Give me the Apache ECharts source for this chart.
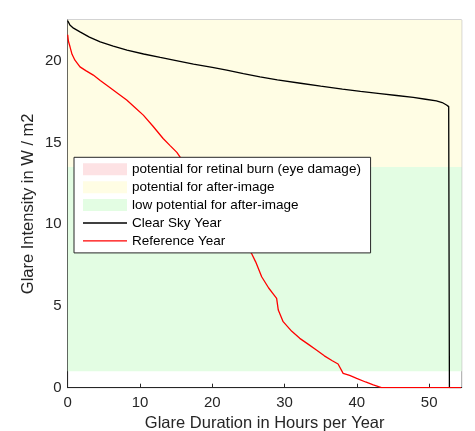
<!DOCTYPE html>
<html>
<head>
<meta charset="utf-8">
<script src="https://cdn.jsdelivr.net/npm/echarts@6/dist/echarts.min.js"></script>
<style>html,body{margin:0;padding:0;background:#fff}#c{width:475px;height:431px}</style>
</head>
<body>
<div id="c"></div>
<script>
// Data
const clearSkyX = [0, 0.3, 0.8, 1.7, 3, 4.5, 6.3, 8.2, 10.5, 12.8, 15, 17.4, 20, 22, 24.3, 26.6, 29, 32.2, 35, 38, 40.5, 43.2, 45.5, 47.8, 49.5, 51, 51.8, 52.4, 52.7, 52.8, 52.8, 54.4];
const clearSkyY = [22.45, 22.2, 22.0, 21.77, 21.45, 21.16, 20.9, 20.65, 20.42, 20.21, 20.02, 19.8, 19.6, 19.43, 19.22, 19.02, 18.83, 18.63, 18.45, 18.27, 18.13, 18.0, 17.88, 17.76, 17.65, 17.55, 17.45, 17.3, 17.2, 17.1, 0, 0];
const refX = [0, 0.1, 0.32, 0.6, 1.0, 1.7, 2.5, 3.54, 4.5, 5.4, 6.8, 8.16, 9.3, 10.46, 11.8, 13.2, 14.2, 15.1, 16.5, 18, 19.5, 21, 22.5, 23.5, 24.5, 25.45, 26.0, 26.83, 27.8, 28.5, 28.9, 29.13, 29.8, 31, 32.1, 33.3, 34.4, 35.5, 36.6, 37.4, 37.66, 38.1, 39.0, 39.97, 41.2, 42.27, 43.4, 54.4];
const refY = [21.6, 21.2, 20.86, 20.4, 20.04, 19.63, 19.4, 19.13, 18.8, 18.51, 18.05, 17.6, 17.15, 16.68, 16.0, 15.25, 14.8, 14.4, 13.5, 12.6, 11.7, 10.8, 9.9, 9.3, 8.7, 8.2, 7.7, 6.79, 6.1, 5.7, 5.47, 4.75, 4.04, 3.45, 3.02, 2.65, 2.31, 1.95, 1.65, 1.45, 1.39, 0.88, 0.75, 0.57, 0.35, 0.17, 0, 0];
const bandNames = ['potential for retinal burn (eye damage)', 'potential for after-image', 'low potential for after-image'];
const bandLow = [22.5, 13.5, 1];
const bandHigh = [30, 22.5, 13.5];
const bandColors = ['#fde2e4', '#fffde4', '#e3fde3'];
const lineNames = ['Clear Sky Year', 'Reference Year'];
const xTicks = [0, 10, 20, 30, 40, 50];
const yTicks = [0, 5, 10, 15, 20];

const FONT = '"Liberation Sans", Arial, sans-serif';
const zip = (xs, ys) => xs.map((x, i) => [x, ys[i]]);

const bandSeries = bandNames.map((n, i) => ({
  name: n, type: 'line', data: [], z: 1, symbol: 'none',
  itemStyle: { color: bandColors[i] }, lineStyle: { color: bandColors[i] },
  markArea: {
    silent: true,
    itemStyle: { color: bandColors[i], opacity: 1 },
    data: bandLow[i] < 22.5 ? [[{ yAxis: bandLow[i] }, { yAxis: Math.min(bandHigh[i], 22.5) }]] : []
  }
}));

const LINE_ICON = 'path://M0,0L44,0L44,1.3L0,1.3Z';

const chart = echarts.init(document.getElementById('c'), null, { renderer: 'canvas' });
chart.setOption({
  animation: false,
  textStyle: { fontFamily: FONT },
  grid: { left: 67.7, top: 20, right: 13.3, bottom: 43.3, containLabel: false, outerBoundsMode: 'none',
          show: true, borderColor: '#a6a6a6', borderWidth: 1, backgroundColor: '#ffffff' },
  legend: {
    orient: 'vertical', left: 74, top: 157.3,
    backgroundColor: '#ffffff', borderColor: '#262626', borderWidth: 1, borderRadius: 0,
    padding: [5, 9.7, 5, 9], itemGap: 3.9, itemWidth: 44, itemHeight: 12, symbolKeepAspect: true,
    textStyle: { fontSize: 13.5, color: '#000', fontFamily: FONT },
    data: bandNames.map(n => ({ name: n, icon: 'rect' })).concat(lineNames.map(n => ({ name: n, icon: LINE_ICON })))
  },
  xAxis: {
    type: 'value', min: 0, max: 54.5, interval: 10,
    name: 'Glare Duration in Hours per Year', nameLocation: 'middle', nameGap: 27, nameMoveOverlap: false,
    nameTextStyle: { fontSize: 16.5, color: '#262626', fontFamily: FONT },
    axisLine: { lineStyle: { color: '#262626', width: 1 } },
    axisTick: { inside: true, length: 4, lineStyle: { color: '#262626' } },
    axisLabel: { fontSize: 15, color: '#262626', margin: 8, showMaxLabel: false, fontFamily: FONT,
                 formatter: v => xTicks.includes(v) ? String(v) : '' },
    splitLine: { show: false }
  },
  yAxis: {
    type: 'value', min: 0, max: 22.5, interval: 5,
    name: 'Glare Intensity in W / m2', nameLocation: 'middle', nameGap: 31, nameRotate: 90, nameMoveOverlap: false,
    nameTextStyle: { fontSize: 16.5, color: '#262626', fontFamily: FONT },
    axisLine: { lineStyle: { color: '#262626', width: 1 } },
    axisTick: { inside: true, length: 4, lineStyle: { color: '#262626' } },
    axisLabel: { fontSize: 15, color: '#262626', margin: 6, showMaxLabel: false, fontFamily: FONT,
                 formatter: v => yTicks.includes(v) ? String(v) : '' },
    splitLine: { show: false }
  },
  series: bandSeries.concat([
    { name: lineNames[0], type: 'line', data: zip(clearSkyX, clearSkyY), symbol: 'none', z: 3,
      itemStyle: { color: '#000' }, lineStyle: { color: '#000', width: 1.3 } },
    { name: lineNames[1], type: 'line', data: zip(refX, refY), symbol: 'none', z: 3,
      itemStyle: { color: '#ff0000' }, lineStyle: { color: '#ff0000', width: 1.3 } }
  ])
});
</script>
</body>
</html>
